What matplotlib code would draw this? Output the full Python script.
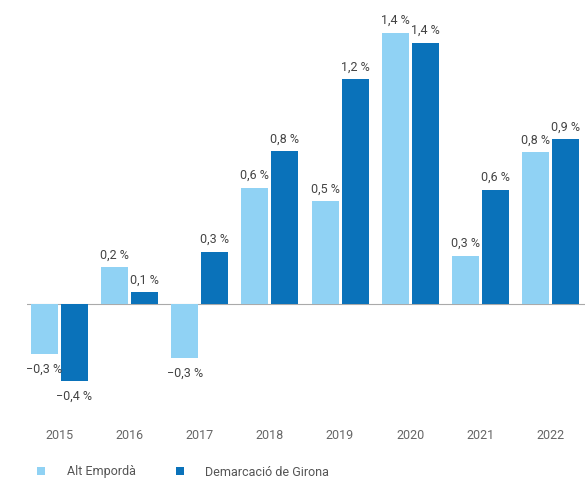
import matplotlib.pyplot as plt
import numpy as np

plt.rcParams['font.family'] = ['Roboto', 'DejaVu Sans']

years = ['2015', '2016', '2017', '2018', '2019', '2020', '2021', '2022']
alt_emporda = [-0.26, 0.19, -0.28, 0.60, 0.53, 1.40, 0.25, 0.785]
girona = [-0.40, 0.06, 0.27, 0.79, 1.16, 1.35, 0.59, 0.85]
alt_labels = ['−0,3 %', '0,2 %', '−0,3 %', '0,6 %', '0,5 %', '1,4 %', '0,3 %', '0,8 %']
gir_labels = ['−0,4 %', '0,1 %', '0,3 %', '0,8 %', '1,2 %', '1,4 %', '0,6 %', '0,9 %']

light = '#90D2F4'
dark = '#0A72BA'
txt = '#444444'

fig = plt.figure(figsize=(5.88, 4.91), dpi=100)
W, H = 588, 491
# axes in pixel coords: left 27, right 585, top 20, bottom 410
ax = fig.add_axes([27 / W, 1 - 410 / H, 558 / W, 390 / H])

X = np.arange(len(years))
w = 0.385
off = 0.214
ax.bar(X - off, alt_emporda, w, color=light, label='Alt Empordà')
ax.bar(X + off, girona, w, color=dark, label='Demarcació de Girona')

ax.axhline(0, color='#aaaaaa', lw=0.8, zorder=0)

# etiquetes de valor
for xs, vals, labs in ((X - off, alt_emporda, alt_labels), (X + off, girona, gir_labels)):
    for x, y, s in zip(xs, vals, labs):
        dy = 8.8 if y >= 0 else -10.5
        ax.annotate(s, (x, y), xytext=(0, dy), textcoords='offset points',
                    ha='center', va='center', fontsize=9, color=txt)

ax.set_xlim(-0.46, 7.49)
ax.set_ylim(-(410 - 304) / 193.6, (304 - 20) / 193.6)
ax.set_xticks(X)
ax.set_xticklabels(years, fontsize=9, color='#666666')
ax.tick_params(axis='x', length=0, pad=14)
ax.set_yticks([])
for sp in ax.spines.values():
    sp.set_visible(False)

fig.legend(loc='center left', bbox_to_anchor=(26 / W, 1 - 472 / H), ncol=2,
           frameon=False, fontsize=9, handlelength=0.65, handleheight=0.65,
           handletextpad=1.7, columnspacing=3.2, labelcolor='#555555')

fig.savefig('out.png', dpi=100)
